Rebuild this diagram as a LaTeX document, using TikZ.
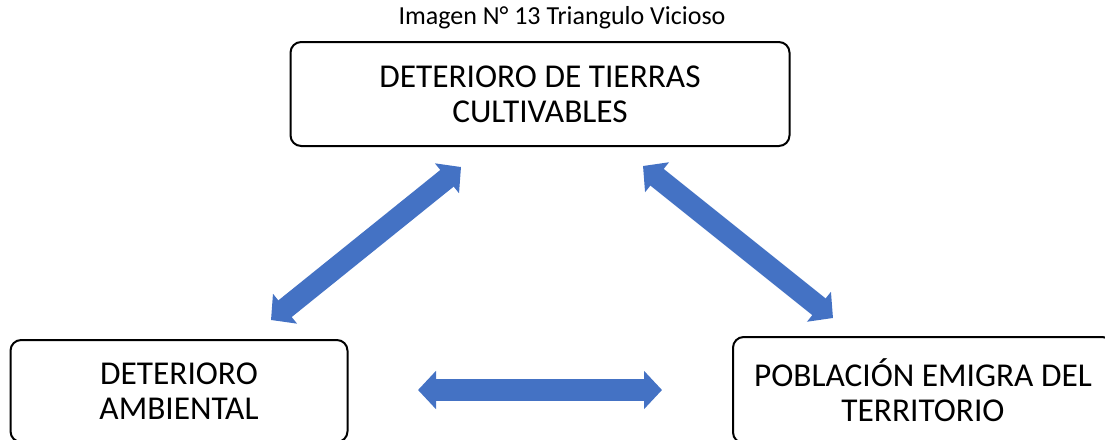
\documentclass[tikz,border=0pt]{standalone}
\usepackage{fontspec}
\setmainfont{Carlito}
\usetikzlibrary{arrows.meta}

\definecolor{flecha}{RGB}{68,114,196}

\tikzset{
	caja/.style={draw=black, line width=1.5pt, rounded corners=8pt, align=center, font=\fontsize{25}{26.5}\selectfont},
	dobleflecha/.style={draw=flecha, line width=16pt, {Triangle[width=28pt,length=13.5pt]}-{Triangle[width=28pt,length=13.5pt]}}
}

\begin{document}
\begin{tikzpicture}[x=0.75pt,y=-0.75pt]

				\useasboundingbox (0,0) rectangle (1105,439);

				\node[font=\fontsize{19.5}{22}\selectfont] (titulo) at (562,18) {Imagen N° 13 Triangulo Vicioso};

				\node[caja, minimum width=499*0.75pt, minimum height=104*0.75pt] (tierras) at (540,94) {DETERIORO DE TIERRAS\\CULTIVABLES};
				\node[caja, minimum width=337*0.75pt, minimum height=102*0.75pt] (ambiental) at (179,391) {DETERIORO\\AMBIENTAL};
				\node[caja, minimum width=380*0.75pt, minimum height=106*0.75pt] (poblacion) at (923,390) {POBLACIÓN EMIGRA DEL\\TERRITORIO};

				\coordinate (t1) at (461,167);
				\coordinate (a1) at (271,320);
				\coordinate (t2) at (643,166);
				\coordinate (p1) at (833,318);
				\coordinate (a2) at (418,390);
				\coordinate (p2) at (662,390);

				\draw[dobleflecha] (a1) -- (t1);
				\draw[dobleflecha] (t2) -- (p1);
				\draw[dobleflecha] (a2) -- (p2);
			\end{tikzpicture}
\end{document}
